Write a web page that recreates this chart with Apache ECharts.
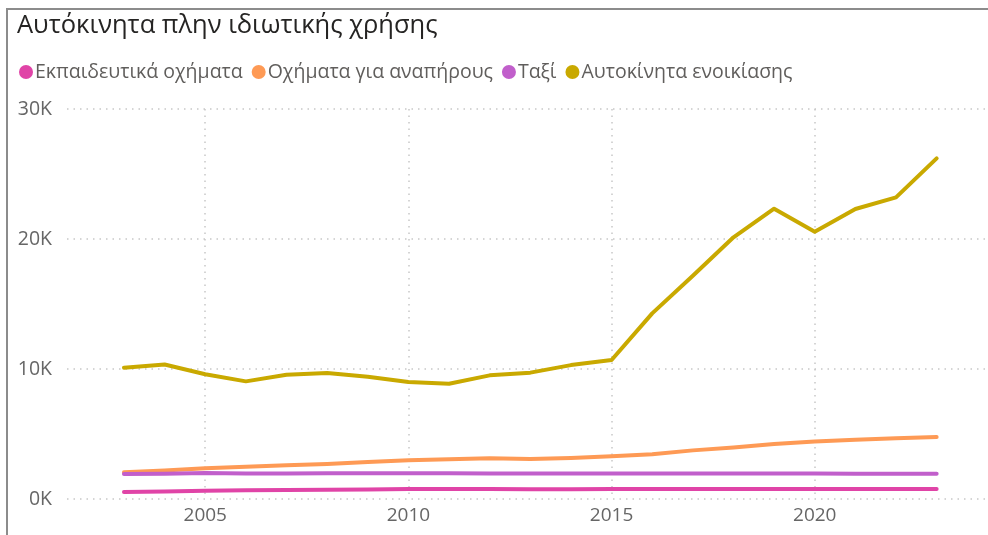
<!DOCTYPE html>
<html>
<head>
<meta charset="utf-8">
<script src="https://cdn.jsdelivr.net/npm/echarts@6/dist/echarts.min.js"></script>
<style>
html,body{margin:0;padding:0;background:#fff;}
#chart{width:988px;height:535px;}
</style>
</head>
<body>
<div id="chart"></div>
<script>
const titleText = 'Αυτόκινητα πλην ιδιωτικής χρήσης';
const years = [2003,2004,2005,2006,2007,2008,2009,2010,2011,2012,2013,2014,2015,2016,2017,2018,2019,2020,2021,2022,2023];
const seriesNames = ['Εκπαιδευτικά οχήματα','Οχήματα για αναπήρους','Ταξί','Αυτοκίνητα ενοικίασης'];
const schoolCars = [540,580,640,670,700,720,740,770,770,760,750,750,760,760,760,760,760,770,770,770,770];
const disabledCars = [2050,2200,2360,2480,2590,2700,2850,2980,3050,3130,3080,3150,3280,3440,3740,3970,4230,4430,4560,4670,4770];
const taxis = [1920,1940,2000,1970,1970,1980,1980,1980,1980,1970,1970,1970,1960,1960,1960,1960,1960,1960,1950,1950,1950];
const rentalCars = [10100,10350,9600,9050,9560,9690,9410,9000,8870,9510,9720,10300,10690,14280,17180,20130,22330,20560,22310,23200,26200];
const yTicks = [0,10000,20000,30000];
const xTickYears = [2005,2010,2015,2020];

const colors = ['#E044A7','#FE9A55','#C15FCB','#C9A900'];
const FONT = '"Open Sans", "Noto Sans", sans-serif';
const allValues = [schoolCars, disabledCars, taxis, rentalCars];

const chart = echarts.init(document.getElementById('chart'), null, {renderer:'canvas'});
const option = {
  animation: false,
  backgroundColor: '#fff',
  title: {
    text: titleText, left: 12, top: 8,
    textStyle: {fontFamily: FONT, fontSize: 25.5, fontWeight: 'normal', color: '#252423'}
  },
  legend: {
    left: 14, top: 57, icon: 'circle', itemWidth: 14, itemHeight: 14, itemGap: 9,
    data: seriesNames,
    textStyle: {fontFamily: FONT, fontSize: 19.5, color: '#605E5C', padding: [0,0,0,-3]}
  },
  graphic: [{
    type: 'rect', silent: true, z: 100,
    shape: {x: 7, y: 9, width: 1100, height: 700},
    style: {fill: 'none', stroke: '#8c8c8c', lineWidth: 2}
  }],
  grid: [
    {left: 2.08, right: 3, top: 109, bottom: 36},
    {left: 67, right: 3, top: 109, bottom: 36}
  ],
  xAxis: [
    {
      type: 'value', gridIndex: 0, min: 2000, max: 2024.19, interval: 5,
      axisLine: {show: false}, axisTick: {show: false},
      axisLabel: {
        fontFamily: FONT, fontSize: 19, color: '#666', margin: 7,
        showMinLabel: false, showMaxLabel: false,
        formatter: v => (xTickYears.indexOf(v) >= 0 ? String(v) : '')
      },
      splitLine: {show: true, showMinLine: false, showMaxLine: false,
        lineStyle: {type: [1.5,5], color: '#c8c8c8', width: 1.5}}
    },
    {type: 'value', gridIndex: 1, min: 0, max: 1, show: false}
  ],
  yAxis: [
    {type: 'value', gridIndex: 0, min: 0, max: 30000, show: false},
    {
      type: 'value', gridIndex: 1, min: 0, max: 30000, interval: 10000,
      axisLine: {show: false}, axisTick: {show: false},
      axisLabel: {fontFamily: FONT, fontSize: 19.5, color: '#666', margin: 15,
        formatter: v => (yTicks.indexOf(v) >= 0 ? (v/1000) + 'K' : '')},
      splitLine: {show: true, lineStyle: {type: [1.5,5], color: '#c8c8c8', width: 1.5}}
    }
  ],
  series: seriesNames.map((name, i) => ({
    name, type: 'line', xAxisIndex: 0, yAxisIndex: 0,
    data: years.map((y, j) => [y, allValues[i][j]]),
    showSymbol: false, symbol: 'circle',
    color: colors[i],
    lineStyle: {width: 4, cap: 'round', join: 'round', color: colors[i]},
    z: 2 + i
  }))
};
chart.setOption(option);
</script>
</body>
</html>
